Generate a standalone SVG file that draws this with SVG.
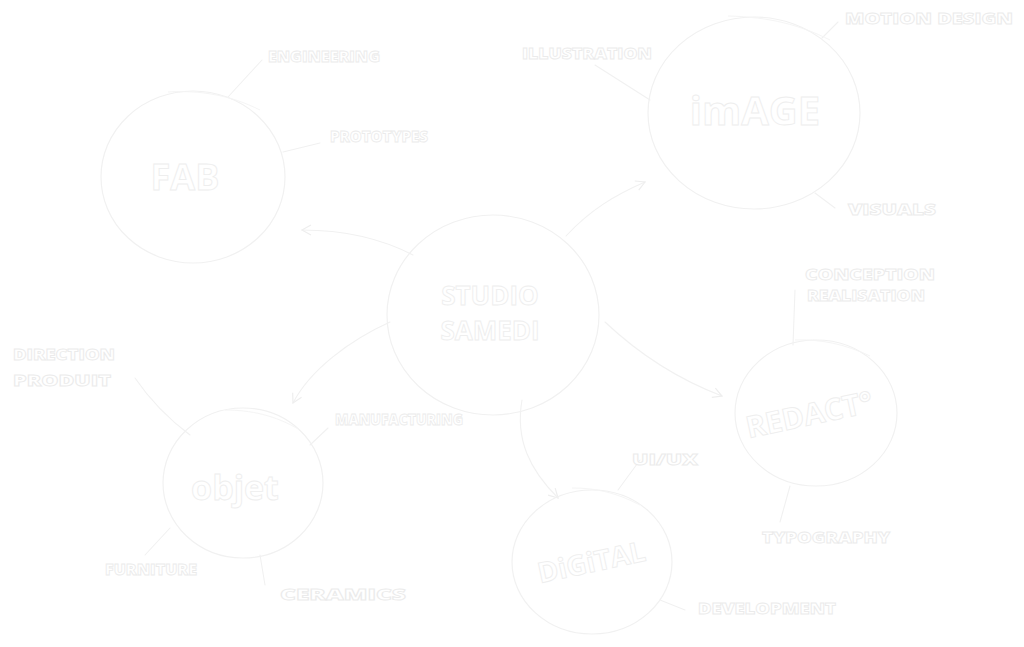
<svg xmlns="http://www.w3.org/2000/svg" width="1024" height="647" viewBox="0 0 1024 647">
<defs>
<style>
.node{fill:none;stroke:#f1f1f1;stroke-width:1.2}
.node2{fill:none;stroke:#f5f5f5;stroke-width:1}
.title{font-family:"Open Sans","Liberation Sans",sans-serif;font-weight:700;fill:#ffffff;stroke:#eeeeee;stroke-width:0.9}
.lbl{font-family:"Open Sans","Liberation Sans",sans-serif;font-weight:800;font-size:15px;fill:#ffffff;stroke:#ebebeb;stroke-width:0.8}
.con{fill:none;stroke:#f1f1f1;stroke-width:1.1;stroke-linecap:round}
</style>
<marker id="ah" viewBox="0 0 12 12" refX="10" refY="6" markerWidth="12" markerHeight="12" markerUnits="userSpaceOnUse" orient="auto">
<path d="M1,1 L10,6 L1,11" fill="none" stroke="#eeeeee" stroke-width="1.2"/>
</marker>
</defs>
<rect width="1024" height="647" fill="#ffffff"/>

<g id="connectors">
<path class="con" d="M228,97 L262,60"/>
<path class="con" d="M283,152 L320,143"/>
<path class="con" d="M413,255 C380,238 340,230 302,230" marker-end="url(#ah)"/>
<path class="con" d="M566,236 C590,210 615,195 645,182" marker-end="url(#ah)"/>
<path class="con" d="M595,65 L650,100"/>
<path class="con" d="M822,38 L838,22"/>
<path class="con" d="M815,193 L835,208"/>
<path class="con" d="M795,290 L793,345"/>
<path class="con" d="M605,322 C640,355 680,380 722,396" marker-end="url(#ah)"/>
<path class="con" d="M522,400 C515,440 530,470 558,498" marker-end="url(#ah)"/>
<path class="con" d="M390,322 C350,340 310,370 293,403" marker-end="url(#ah)"/>
<path class="con" d="M135,378 C150,400 170,420 190,435"/>
<path class="con" d="M310,445 L328,428"/>
<path class="con" d="M170,528 L145,555"/>
<path class="con" d="M260,555 L265,585"/>
<path class="con" d="M618,490 L640,460"/>
<path class="con" d="M790,486 L780,522"/>
<path class="con" d="M660,600 L685,610"/>
</g>

<g id="fab">
<ellipse class="node" cx="193" cy="177" rx="92" ry="86"/>
<path class="node2" d="M168,92 C200,90 230,95 260,110"/>
<text class="title" x="185" y="190" font-size="36" text-anchor="middle">FAB</text>
</g>

<g id="image">
<ellipse class="node" cx="754" cy="113" rx="106" ry="96"/>
<path class="node2" d="M728,16 C770,17 800,25 830,40"/>
<text class="title" x="755" y="125" font-size="40" text-anchor="middle">imAGE</text>
</g>

<g id="studio">
<ellipse class="node" cx="493" cy="315" rx="106" ry="100"/>
<text class="title" x="490" y="305" font-size="26" text-anchor="middle">STUDIO</text>
<text class="title" x="490" y="340" font-size="26" text-anchor="middle">SAMEDI</text>
</g>

<g id="objet">
<ellipse class="node" cx="243" cy="483" rx="80" ry="75"/>
<path class="node2" d="M225,410 C250,410 275,415 300,430"/>
<text class="title" x="235" y="500" font-size="34" text-anchor="middle">objet</text>
</g>

<g id="redact">
<ellipse class="node" cx="816" cy="413" rx="81" ry="73"/>
<path class="node2" d="M795,340 C820,339 845,344 870,356"/>
<text class="title" x="810" y="425" font-size="30" text-anchor="middle" transform="rotate(-12 810 418)">REDACT°</text>
</g>

<g id="digital">
<ellipse class="node" cx="592" cy="562" rx="80" ry="72"/>
<path class="node2" d="M572,488 C595,488 615,492 640,505"/>
<text class="title" x="592" y="572" font-size="28" text-anchor="middle" transform="rotate(-12 592 565)">DiGiTAL</text>
</g>

<g id="labels">
<text class="lbl" x="268" y="62" textLength="112" lengthAdjust="spacingAndGlyphs">ENGINEERING</text>
<text class="lbl" x="330" y="142" textLength="98" lengthAdjust="spacingAndGlyphs">PROTOTYPES</text>
<text class="lbl" x="522" y="59" textLength="130" lengthAdjust="spacingAndGlyphs">ILLUSTRATION</text>
<text class="lbl" x="845" y="24" textLength="168" lengthAdjust="spacingAndGlyphs">MOTION DESIGN</text>
<text class="lbl" x="848" y="215" textLength="88" lengthAdjust="spacingAndGlyphs">VISUALS</text>
<text class="lbl" x="805" y="280" textLength="130" lengthAdjust="spacingAndGlyphs">CONCEPTION</text>
<text class="lbl" x="807" y="301" textLength="118" lengthAdjust="spacingAndGlyphs">REALISATION</text>
<text class="lbl" x="13" y="360" textLength="102" lengthAdjust="spacingAndGlyphs">DIRECTION</text>
<text class="lbl" x="13" y="386" textLength="98" lengthAdjust="spacingAndGlyphs">PRODUIT</text>
<text class="lbl" x="335" y="425" textLength="128" lengthAdjust="spacingAndGlyphs">MANUFACTURING</text>
<text class="lbl" x="105" y="575" textLength="92" lengthAdjust="spacingAndGlyphs">FURNITURE</text>
<text class="lbl" x="280" y="600" font-size="19" textLength="126" lengthAdjust="spacingAndGlyphs">CERAMICS</text>
<text class="lbl" x="632" y="465" font-size="18" textLength="66" lengthAdjust="spacingAndGlyphs">UI/UX</text>
<text class="lbl" x="762" y="543" textLength="128" lengthAdjust="spacingAndGlyphs">TYPOGRAPHY</text>
<text class="lbl" x="698" y="614" textLength="138" lengthAdjust="spacingAndGlyphs">DEVELOPMENT</text>
</g>
</svg>
